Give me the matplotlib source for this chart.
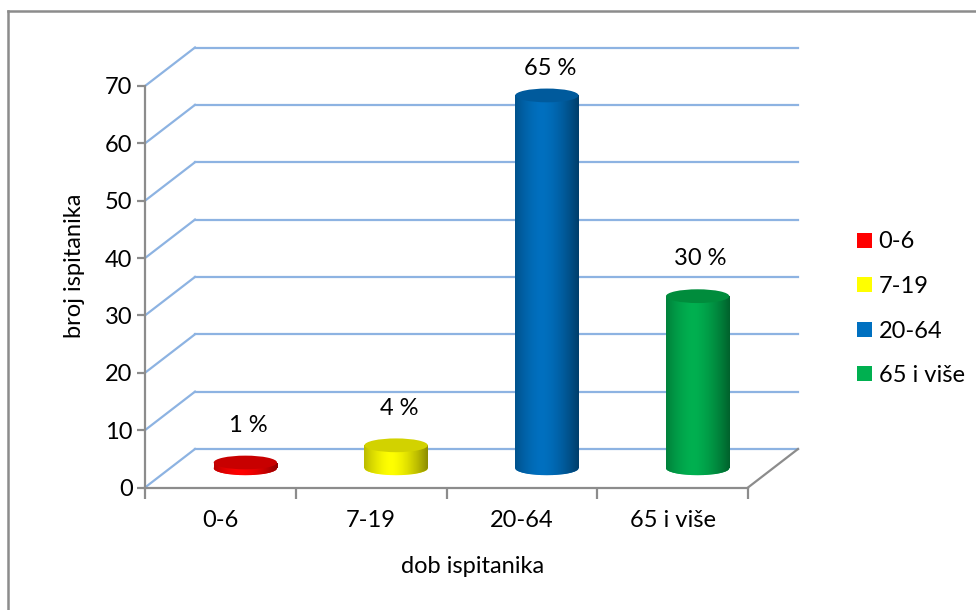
import numpy as np
import matplotlib
matplotlib.use('Agg')
import matplotlib.pyplot as plt
from matplotlib.patches import Ellipse, Patch
from matplotlib.lines import Line2D
from matplotlib.colors import to_rgb

plt.rcParams['font.family'] = ['Lato', 'DejaVu Sans']

categories = ['0-6', '7-19', '20-64', '65 i više']
values = [1, 4, 65, 30]
labels = ['1 %', '4 %', '65 %', '30 %']
colors = ['#FF0000', '#FFFF00', '#0070C0', '#00B050']
top_colors = ['#C80000', '#D2D200', '#005A9C', '#008C3C']
yticks = list(range(0, 80, 10))

W, H = 976, 610
FS = 17
fig = plt.figure(figsize=(W / 100, H / 100), dpi=100)

# axes in pixel terms: x 0..4 -> 145..748 px, y 0..70 -> 487.5..86 px
px_x = (748 - 145) / 4
px_y = (487.5 - 86) / 70
xmax = (800 - 145) / px_x
ymax = (487.5 - 45) / px_y
ax = fig.add_axes([145 / W, (H - 487.5) / H, (800 - 145) / W, (487.5 - 45) / H])
ax.set_xlim(0, xmax)
ax.set_ylim(0, ymax)

# depth offset of the back wall
dx = 50 / px_x
dy = 38.5 / px_y

grid_c = '#8DB3E2'
axis_c = '#8C8C8C'

# gridlines: diagonal on side wall + horizontal on back wall
for v in yticks:
    ax.plot([0, dx], [v, v + dy], color=grid_c, lw=1.6, zorder=1)
    ax.plot([dx, 4 + dx], [v + dy, v + dy], color=grid_c, lw=1.6, zorder=1)
# right floor edge
ax.plot([4, 4 + dx], [0, dy], color=axis_c, lw=1.6, zorder=1, clip_on=False)

for s in ['top', 'right']:
    ax.spines[s].set_visible(False)
ax.spines['left'].set_bounds(0, 70)
ax.spines['bottom'].set_bounds(0, 4)
for s in ['left', 'bottom']:
    ax.spines[s].set_color(axis_c)
    ax.spines[s].set_linewidth(1.6)

ax.set_yticks(yticks)
ax.tick_params(axis='y', length=6, width=1.6, color=axis_c, labelsize=FS, pad=3)
ax.set_xticks(range(5))
ax.set_xticklabels([])
ax.set_xticks([i + 0.5 for i in range(4)], minor=True)
ax.set_xticklabels(categories, minor=True)
ax.tick_params(axis='x', which='major', length=8, width=1.6, color=axis_c)
ax.tick_params(axis='x', which='minor', length=0, labelsize=FS, pad=16)

ax.set_xlabel('dob ispitanika', fontsize=FS, labelpad=18)
ax.set_ylabel('broj ispitanika', fontsize=FS, labelpad=14)

# cylinders
bw = 0.42
eh = 2.4
t = np.linspace(0, 1, 200)
shade = 1 - 0.45 * (np.abs(t - 0.42) / 0.58) ** 1.6
xs = [i + 0.5 + dx / 2 for i in range(len(values))]
base = dy / 2
bars = ax.bar(xs, values, width=bw, bottom=base, color=colors, zorder=3, lw=0)
for i, (x, v) in enumerate(zip(xs, values)):
    c = np.array(to_rgb(colors[i]))
    grad = (shade[:, None] * c[None, :])[None, :, :]
    bottom_el = Ellipse((x, base), bw, eh, color=colors[i], lw=0, zorder=2.5)
    ax.add_patch(bottom_el)
    for p in [bars[i], bottom_el]:
        im = ax.imshow(grad, extent=[x - bw / 2, x + bw / 2, base - eh, base + v],
                       aspect='auto', zorder=3.1, interpolation='bilinear')
        im.set_clip_path(p)
    top_el = Ellipse((x, base + v), bw, eh, color=top_colors[i], lw=0, zorder=4)
    ax.add_patch(top_el)
    ax.text(x + 0.02, min(base + v + 6.5, 73), labels[i], ha='center', va='center',
            fontsize=FS, zorder=5)

ax.set_xlim(0, xmax)
ax.set_ylim(0, ymax)

handles = [Patch(facecolor=c, edgecolor='none') for c in colors]
fig.legend(handles, categories, loc='upper left', bbox_to_anchor=(848 / W, 1 - 222 / H),
           frameon=False, fontsize=FS, handlelength=0.6, handleheight=0.6,
           handletextpad=0.3, labelspacing=1.0, borderaxespad=0)

# chart border
fig.add_artist(Line2D([8 / W, 8 / W], [0, 1 - 10.5 / H], transform=fig.transFigure,
                      color=axis_c, lw=1.8))
fig.add_artist(Line2D([8 / W, 1], [1 - 10.5 / H, 1 - 10.5 / H], transform=fig.transFigure,
                      color=axis_c, lw=1.8))

fig.savefig('out.png', dpi=100)
